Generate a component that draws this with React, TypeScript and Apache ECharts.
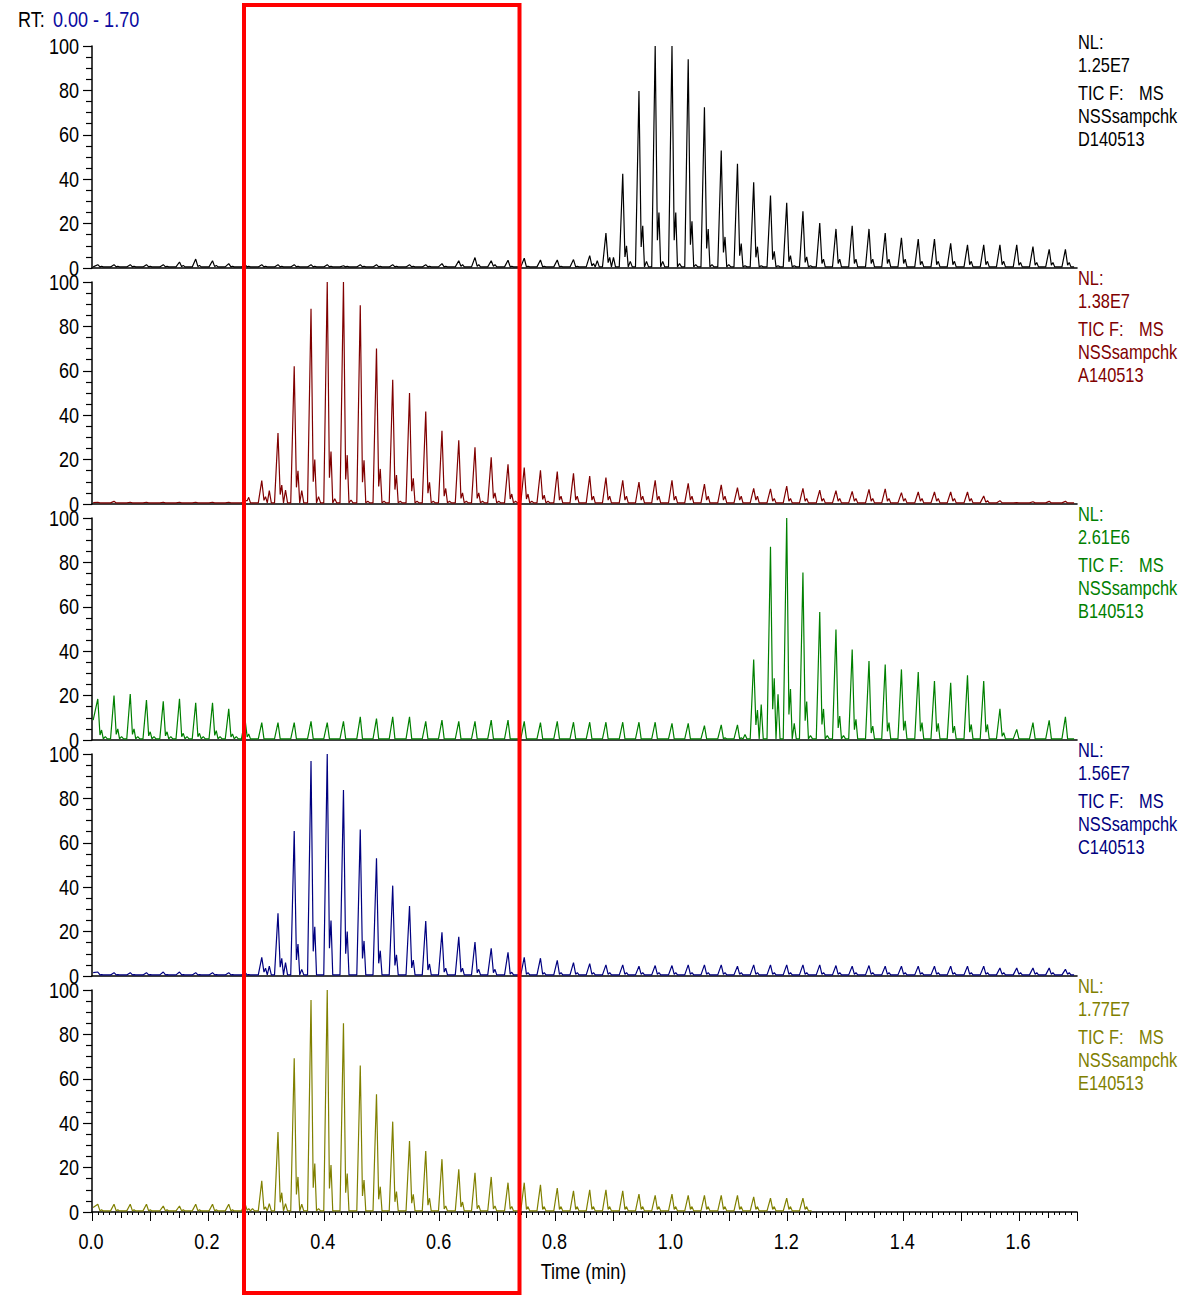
import { useEffect, useRef } from 'react';
import * as echarts from 'echarts';

// Retention times (min) of the repeated injections, shared by every trace
const PEAK_TIMES = [
  0.010, 0.038, 0.066, 0.094, 0.123, 0.151, 0.179, 0.208, 0.236, 0.264,
  0.293, 0.321, 0.349, 0.378, 0.406, 0.434, 0.463, 0.491, 0.519, 0.548,
  0.576, 0.604, 0.633, 0.661, 0.689, 0.718, 0.746, 0.774, 0.803, 0.831,
  0.859, 0.887, 0.916, 0.944, 0.972, 1.001, 1.029, 1.057, 1.086, 1.114,
  1.142, 1.171, 1.199, 1.227, 1.256, 1.284, 1.312, 1.341, 1.369, 1.397,
  1.426, 1.454, 1.482, 1.511, 1.539, 1.567, 1.596, 1.624, 1.652, 1.680,
];

// Relative abundance (%) of main peak, trailing shoulder and late bump per injection
// Trace D140513 (black)
const D_MAIN = [
  1.5, 1.5, 1.5, 1.5, 1.5, 2.7, 4, 3.3, 2, 1.5,
  1.5, 1.5, 1.5, 1.5, 1.5, 1, 1.5, 1.5, 1.5, 1.5,
  1.5, 2, 3.3, 4.7, 3.3, 3.5, 4.4, 3.6, 3.6, 3.8,
  5.6, 15.7, 42.5, 79.7, 100, 100, 94, 72.4, 52.9, 47,
  38.6, 32.7, 29.4, 25.5, 20.2, 17.6, 19, 17.6, 15.7, 13.6,
  13, 13, 11.1, 10.4, 10.4, 10.4, 10.4, 9.6, 8.4, 8.4,
];
const D_SEC = [
  0.8, 0.8, 0.8, 0.8, 0.8, 1.2, 1.2, 1.2, 0.8, 0.8,
  0.8, 0.8, 0.8, 0.8, 0.8, 0.8, 0.8, 0.8, 0.8, 0.8,
  0.8, 0.8, 1.5, 1.5, 1.5, 0.8, 0.8, 0.8, 0.8, 0.8,
  2, 4.8, 10, 19, 25, 25, 21, 17.6, 14, 11,
  9.6, 7.5, 5.6, 5, 4, 4, 4, 4, 4, 4,
  3, 3, 3, 3, 3, 3, 2.5, 2.5, 2.5, 2.5,
];
const D_TER = [
  0, 0, 0, 0, 0, 0, 0, 0, 0, 0,
  0, 0, 0, 0, 0, 0, 0, 0, 0, 0,
  0, 0, 0, 0, 0, 0, 0, 0, 0, 0,
  3.3, 4.8, 3, 3, 3, 2, 1.5, 1.5, 1.5, 1,
  1, 1, 1, 1, 0, 0, 0, 0, 0, 0,
  0, 0, 0, 0, 0, 0, 0, 0, 0, 0,
];

// Trace A140513 (dark red)
const A_MAIN = [
  0.8, 1.2, 0.8, 0.8, 0.8, 0.8, 0.8, 0.8, 0.8, 1.5,
  10.5, 32, 62, 88, 100, 100, 89.5, 70, 56, 50,
  41.7, 33, 28.7, 25.5, 21, 17.9, 16.4, 15.2, 14.6, 13.8,
  12.6, 11.9, 10.7, 9.9, 10.7, 10.7, 9.3, 9, 8.6, 7.4,
  7, 6.8, 8.1, 7, 6.2, 6, 5.7, 6.6, 6.8, 5.1,
  5.4, 5.4, 5.4, 5.4, 3.6, 1.5, 0.6, 1, 1.2, 1.2,
];
const A_SEC = [
  0.5, 0.5, 0.5, 0.5, 0.5, 0.5, 0.5, 0.5, 0.5, 3,
  3.3, 8.5, 15, 20, 23.6, 22, 19.7, 15.8, 13, 11.6,
  9.8, 7, 5, 5, 5, 4.5, 4.5, 4, 3.5, 3.5,
  3.5, 3.5, 3.5, 3.5, 3.5, 3.5, 3.5, 3.5, 3.5, 3.5,
  3.5, 2.5, 2.5, 2.5, 2.5, 2.5, 2.5, 2.5, 2.5, 2.5,
  2.5, 2.5, 2.5, 2.5, 1.5, 0.5, 0.5, 0.5, 0.5, 0.5,
];
const A_TER = [
  0, 0, 0, 0, 0, 0, 0, 0, 0, 0,
  6, 6.3, 6, 3.3, 2.4, 1.8, 1.2, 1.2, 1.2, 1.2,
  1.2, 1.2, 1.2, 1.2, 1.2, 1.2, 1.2, 1.2, 0, 0,
  0, 0, 0, 0, 0, 0, 0, 0, 0, 0,
  0, 0, 0, 0, 0, 0, 0, 0, 0, 0,
  0, 0, 0, 0, 0, 0, 0, 0, 0, 0,
];

// Trace B140513 (green)
const B_MAIN = [
  18.5, 20, 20.7, 18, 17.4, 18.6, 16.8, 16.8, 14, 9.6,
  7.8, 7.8, 7.8, 8.4, 7.8, 8.4, 10.4, 9.6, 10.4, 10.4,
  8.4, 9, 8.4, 8.4, 9, 9, 8.4, 7.8, 8.4, 8,
  8, 8, 8, 8, 8, 7.5, 7.5, 6.5, 6.8, 6.8,
  36.2, 87, 100, 75.4, 57.7, 49.8, 40.8, 35.6, 34, 31.8,
  30.6, 26.6, 25.8, 29.1, 26.6, 14.1, 4.8, 7.8, 8.9, 10.4,
];
const B_SEC = [
  4.5, 5, 5, 3.7, 3.7, 3, 3, 4.2, 2.7, 2.7,
  0, 0, 0, 0, 0, 0, 0, 0, 0, 0,
  0, 0, 0, 0, 0, 0, 0, 0, 0, 0,
  0, 0, 0, 0, 0, 0, 0, 0, 1, 1,
  13.5, 27.8, 23, 17.3, 14, 10.8, 9.3, 6.3, 7.8, 8.6,
  7.8, 7.5, 6.3, 7, 7, 3.3, 0, 0, 0, 0,
];
const B_TER = [
  1.5, 1.5, 1.5, 1.5, 1.5, 1.5, 1.5, 1.5, 1.5, 0,
  0, 0, 0, 0, 0, 0, 0, 0, 0, 0,
  0, 0, 0, 0, 0, 0, 0, 0, 0, 0,
  0, 0, 0, 0, 0, 0, 0, 0, 0, 2.5,
  16, 20.6, 7.5, 2, 2, 2, 0, 0, 0, 0,
  0, 0, 0, 0, 0, 0, 0, 0, 0, 0,
];

// Trace C140513 (navy)
const C_MAIN = [
  1.8, 1.5, 1.5, 1.5, 1.8, 1.8, 1.5, 1.5, 1.5, 1.6,
  8.4, 28.2, 65.3, 96.8, 100, 83.8, 66, 53, 40.7, 31.5,
  24.8, 19.7, 17.7, 15.3, 12.5, 10.7, 8.4, 8, 7, 6,
  5.6, 5, 5, 4.4, 4.7, 4.7, 5, 5, 5, 4.4,
  5, 5, 5, 5, 5, 4.7, 4.4, 4.7, 4.4, 4.4,
  4.4, 4.4, 4.4, 4.4, 4.4, 3.6, 3.6, 3.6, 3.6, 3,
];
const C_SEC = [
  0.6, 0.6, 0.6, 0.6, 0.6, 0.6, 0.6, 0.6, 0.6, 0.6,
  3.5, 8, 14.4, 22.2, 25, 20, 15.8, 11.4, 9.5, 7.2,
  5.4, 3.5, 3.5, 3, 3, 1.7, 1.5, 1.5, 1.5, 1.5,
  1.5, 1.5, 1.5, 1.5, 1.5, 1.5, 1.5, 1.5, 1.5, 1.5,
  1.5, 1.5, 1.5, 1.5, 1.5, 1.5, 1.5, 1.5, 1.5, 1.5,
  1.5, 1.5, 1.5, 1.5, 1.5, 1.5, 1.5, 1.5, 1.5, 1.5,
];
const C_TER = [
  0, 0, 0, 0, 0, 0, 0, 0, 0, 0,
  4.5, 6, 3, 0, 0, 0, 0, 0, 0, 0,
  0, 0, 0, 0, 0, 0, 0, 0, 0, 0,
  0, 0, 0, 0, 0, 0, 0, 0, 0, 0,
  0, 0, 0, 0, 0, 0, 0, 0, 0, 0,
  0, 0, 0, 0, 0, 0, 0, 0, 0, 0,
];

// Trace E140513 (olive), acquisition stops near 1.24 min
const E_MAIN = [
  3.5, 3.5, 3.5, 3.5, 2.7, 2.7, 3.5, 3.5, 3.5, 3.9,
  14, 36, 69.3, 95.5, 100, 85, 66, 53, 40.7, 32,
  27.5, 23.8, 19.2, 17.7, 15.8, 13.2, 13.2, 12.2, 10.8, 9.5,
  10, 10, 9.5, 8.1, 7.5, 8.1, 7.5, 7.5, 7.5, 7.5,
  6.8, 6.2, 6.2, 6.2,
];
const E_SEC = [
  1, 1, 1, 1, 1, 1, 1, 1, 1, 1.5,
  2.3, 8.7, 15.8, 21.8, 21.2, 17.3, 14.4, 11.4, 9.2, 8,
  6.2, 2.7, 4.5, 3, 2.7, 2.5, 2.4, 2.4, 2.4, 2.4,
  2.4, 2.4, 2.4, 2.4, 2.4, 2.4, 2.4, 2.4, 2.4, 2.4,
  2.4, 2.4, 2.4, 2.4,
];
const E_TER = [
  0, 0, 0, 0, 0, 0, 0, 0, 0, 1.5,
  3.8, 3.8, 3.5, 1.5, 0, 0, 0, 0, 0, 0,
  0, 0, 0, 0, 0, 0, 0, 0, 0, 0,
  0, 0, 0, 0, 0, 0, 0, 0, 0, 0,
  0, 0, 0, 0,
];

const START_LEVEL = [0.5, 0.6, 9, 1.5, 2];
const END_TIME = [1.695, 1.695, 1.695, 1.695, 1.242];

const NL_VALUES = ['1.25E7', '1.38E7', '2.61E6', '1.56E7', '1.77E7'];
const FILE_NAMES = ['D140513', 'A140513', 'B140513', 'C140513', 'E140513'];
const COLORS = ['#000000', '#800000', '#008000', '#000080', '#808000'];

const Y_LABELS = [0, 20, 40, 60, 80, 100];
const X_LABELS = [0, 0.2, 0.4, 0.6, 0.8, 1.0, 1.2, 1.4, 1.6];
const X_TITLE = 'Time (min)';

const BASE = 0.5;
const FONT = "'Liberation Sans', Arial, sans-serif";
const NARROW = 0.82; // horizontal squeeze giving the condensed lettering

type Pt = [number, number];

function buildTrace(main: number[], sec: number[], ter: number[], start: number, end: number): Pt[] {
  const pts: Pt[] = [[0.002, start]];
  main.forEach((h, k) => {
    const t = PEAK_TIMES[k];
    const s = Math.max(BASE, sec[k]);
    const r = Math.max(BASE, ter[k]);
    if (k > 0) pts.push([t - 0.006, BASE]);
    pts.push([t, h]);
    pts.push([t + 0.0038, Math.max(BASE, s * 0.5)]);
    pts.push([t + 0.0065, s]);
    pts.push([t + 0.0095, BASE]);
    pts.push([t + 0.013, r]);
    pts.push([t + 0.0165, BASE]);
  });
  pts.push([end, BASE]);
  return pts.filter((p) => p[0] <= end);
}

const TRACES = [
  buildTrace(D_MAIN, D_SEC, D_TER, START_LEVEL[0], END_TIME[0]),
  buildTrace(A_MAIN, A_SEC, A_TER, START_LEVEL[1], END_TIME[1]),
  buildTrace(B_MAIN, B_SEC, B_TER, START_LEVEL[2], END_TIME[2]),
  buildTrace(C_MAIN, C_SEC, C_TER, START_LEVEL[3], END_TIME[3]),
  buildTrace(E_MAIN, E_SEC, E_TER, START_LEVEL[4], END_TIME[4]),
];

const GRID_LEFT = 92;
const GRID_WIDTH = 985;
const GRID_TOP = 46;
const GRID_HEIGHT = 222;
const GRID_STEP = 236;

function label(
  text: string,
  x: number,
  y: number,
  color: string,
  size: number,
  align: 'left' | 'center' | 'right' = 'left',
) {
  return {
    type: 'text',
    x,
    y,
    scaleX: NARROW,
    style: { text, fill: color, font: `${size}px ${FONT}`, verticalAlign: 'middle', align },
    z: 50,
  };
}

export default function App() {
  const ref = useRef<HTMLDivElement>(null);

  useEffect(() => {
    if (!ref.current) return;
    const chart = echarts.init(ref.current, null, { renderer: 'svg' });

    const grids = TRACES.map((_, i) => ({
      left: GRID_LEFT,
      width: GRID_WIDTH,
      top: GRID_TOP + GRID_STEP * i,
      height: GRID_HEIGHT,
      containLabel: false,
    }));

    const last = TRACES.length - 1;
    const xAxes: any[] = TRACES.map((_, i) => ({
      type: 'value',
      gridIndex: i,
      position: 'bottom',
      min: 0,
      max: 1.7,
      interval: 0.1,
      splitLine: { show: false },
      axisLine: { show: true, onZero: false, lineStyle: { color: '#000', width: 1.6 } },
      axisTick: { show: i === last, length: 9, lineStyle: { color: '#000', width: 1 } },
      minorTick: { show: i === last, splitNumber: 10, length: 3, lineStyle: { color: '#000', width: 1 } },
      axisLabel: { show: false },
    }));
    // medium ticks every 0.05 min on the bottom axis
    xAxes.push({
      type: 'value',
      gridIndex: last,
      position: 'bottom',
      min: 0,
      max: 1.7,
      interval: 0.05,
      splitLine: { show: false },
      axisLine: { show: false, onZero: false },
      axisTick: { show: true, length: 6, lineStyle: { color: '#000', width: 1 } },
      axisLabel: { show: false },
    });

    const yAxes = TRACES.map((_, i) => ({
      type: 'value',
      gridIndex: i,
      min: 0,
      max: 100,
      interval: 20,
      splitLine: { show: false },
      axisLine: { show: true, lineStyle: { color: '#000', width: 1.5 } },
      axisTick: { show: true, length: 9, lineStyle: { color: '#000', width: 1.2 } },
      minorTick: { show: true, splitNumber: 4, length: 6, lineStyle: { color: '#000', width: 1.2 } },
      axisLabel: { show: false },
    }));

    const series = TRACES.map((data, i) => ({
      type: 'line',
      xAxisIndex: i,
      yAxisIndex: i,
      data,
      showSymbol: false,
      symbol: 'none',
      smooth: false,
      lineStyle: { color: COLORS[i], width: 1.2 },
      itemStyle: { color: COLORS[i] },
      z: 3,
    }));

    chart.setOption({
      animation: false,
      backgroundColor: '#ffffff',
      grid: grids,
      xAxis: xAxes,
      yAxis: yAxes,
      series,
    });

    // Tick labels placed through the axes' own scales, drawn condensed
    const texts: any[] = [];
    TRACES.forEach((_, i) => {
      Y_LABELS.forEach((v) => {
        const py = chart.convertToPixel({ yAxisIndex: i }, v) as number;
        texts.push(label(String(v), 79, py, '#000', 22, 'right'));
      });
    });
    X_LABELS.forEach((v) => {
      const px = chart.convertToPixel({ xAxisIndex: last }, v) as number;
      texts.push(label(v.toFixed(1), px - 1, 1241, '#000', 22, 'center'));
    });
    const x0 = chart.convertToPixel({ xAxisIndex: last }, 0) as number;
    const x1 = chart.convertToPixel({ xAxisIndex: last }, 1.7) as number;
    texts.push(label(X_TITLE, (x0 + x1) / 2 - 1, 1271, '#000', 22, 'center'));

    TRACES.forEach((_, i) => {
      const y0 = 42 + GRID_STEP * i;
      const c = COLORS[i];
      texts.push(label('NL:', 1078, y0, c, 20));
      texts.push(label(NL_VALUES[i], 1078, y0 + 23, c, 20));
      texts.push(label('TIC F:', 1078, y0 + 51, c, 20));
      texts.push(label('MS', 1139, y0 + 51, c, 20));
      texts.push(label('NSSsampchk', 1078, y0 + 74, c, 20));
      texts.push(label(FILE_NAMES[i], 1078, y0 + 97, c, 20));
    });

    texts.push(label('RT:', 18, 19, '#000', 22));
    texts.push(label('0.00 - 1.70', 53, 19, '#0a0aa0', 22));

    chart.setOption({
      graphic: [
        ...texts,
        {
          type: 'rect',
          shape: { x: 244, y: 5, width: 275.5, height: 1288 },
          style: { fill: 'none', stroke: '#ff0000', lineWidth: 4 },
          z: 100,
        },
      ],
    });

    return () => chart.dispose();
  }, []);

  return (
    <div
      ref={ref}
      style={{ position: 'absolute', left: 0, top: 0, width: 1182, height: 1295, background: '#fff' }}
    />
  );
}
